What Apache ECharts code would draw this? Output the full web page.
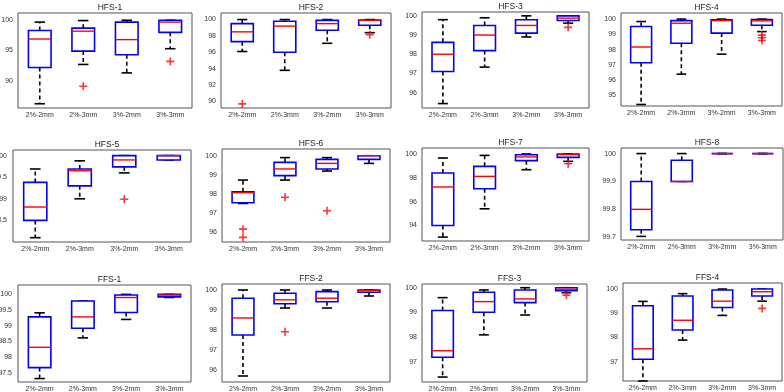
<!DOCTYPE html>
<html>
<head>
<meta charset="utf-8">
<script src="https://cdn.jsdelivr.net/npm/echarts@6/dist/echarts.min.js"></script>
<style>
  html, body { margin: 0; padding: 0; background: #fff; }
  #chart { width: 784px; height: 392px; }
</style>
</head>
<body>
<div id="chart"></div>
<script>
const categories = ['2%-2mm', '2%-3mm', '3%-2mm', '3%-3mm']
const panelTitles = ['HFS-1', 'HFS-2', 'HFS-3', 'HFS-4', 'HFS-5', 'HFS-6', 'HFS-7', 'HFS-8', 'FFS-1', 'FFS-2', 'FFS-3', 'FFS-4']

// each box: [lower whisker, Q1, median, Q3, upper whisker]
const hfs1Box = [[86.2, 92.2, 96.9, 98.3, 99.7], [92.7, 94.9, 98.2, 98.7, 99.95], [91.3, 94.3, 96.8, 99.7, 100], [95.3, 98.0, 99.7, 100, 100]]
const hfs2Box = [[96.1, 97.3, 98.5, 99.5, 100], [93.8, 96.0, 99.2, 99.8, 100], [97.1, 98.7, 99.5, 99.9, 100], [98.4, 99.3, 99.9, 99.95, 100]]
const hfs3Box = [[95.43, 97.1, 98.0, 98.62, 99.8], [97.33, 98.19, 99.0, 99.5, 99.9], [98.9, 99.1, 99.5, 99.8, 100], [99.62, 99.76, 99.88, 100, 100]]
const hfs4Box = [[94.4, 97.14, 98.17, 99.51, 99.84], [96.39, 98.42, 99.73, 99.9, 100], [97.7, 99.08, 99.9, 99.95, 100], [99.18, 99.6, 99.89, 99.97, 100]]
const hfs5Box = [[98.1, 98.5, 98.81, 99.38, 99.69], [99.0, 99.3, 99.65, 99.69, 99.88], [99.6, 99.74, 99.9, 100, 100], [99.9, 99.9, 100, 100, 100]]
const hfs6Box = [[97.51, 97.55, 98.07, 98.12, 98.73], [98.73, 98.96, 99.31, 99.65, 99.9], [99.2, 99.31, 99.6, 99.81, 99.9], [99.6, 99.81, 100, 100, 100]]
const hfs7Box = [[93.03, 94.0, 97.23, 98.4, 99.66], [95.4, 97.08, 98.12, 98.96, 99.88], [98.68, 99.44, 99.75, 99.94, 100], [99.38, 99.71, 99.94, 100, 100]]
const hfs8Box = [[99.703, 99.727, 99.8, 99.9, 100], [99.9, 99.9, 99.9, 99.976, 100], [100, 100, 100, 100, 100], [100, 100, 100, 100, 100]]
const ffs1Box = [[97.31, 97.66, 98.31, 99.28, 99.41], [98.61, 98.92, 99.28, 99.79, 99.79], [99.2, 99.42, 99.9, 99.98, 100], [99.9, 99.92, 99.98, 100, 100]]
const ffs2Box = [[95.7, 97.75, 98.6, 99.59, 100], [99.1, 99.31, 99.51, 99.84, 100], [99.1, 99.41, 99.59, 99.92, 100], [99.7, 99.89, 99.97, 100, 100]]
const ffs3Box = [[96.4, 97.2, 97.46, 99.08, 99.6], [98.1, 99.01, 99.44, 99.82, 99.91], [98.9, 99.4, 99.55, 99.91, 100], [99.8, 99.88, 99.94, 100, 100]]
const ffs4Box = [[96.2, 97.1, 97.53, 99.31, 99.49], [97.89, 98.31, 98.71, 99.71, 99.81], [98.91, 99.24, 99.5, 99.96, 100], [99.5, 99.71, 99.89, 100, 100]]

// outliers: [category index, value]
const hfs1Out = [[1, 89.1], [3, 93.2]]
const hfs2Out = [[0, 89.7], [3, 98.15]]
const hfs3Out = [[3, 99.4]]
const hfs4Out = [[3, 98.95], [3, 98.78], [3, 98.6]]
const hfs5Out = [[2, 98.99]]
const hfs6Out = [[0, 96.17], [0, 95.74], [1, 97.83], [2, 97.13]]
const hfs7Out = [[3, 99.18]]
const hfs8Out = []
const ffs1Out = []
const ffs2Out = [[1, 97.91]]
const ffs3Out = [[3, 99.7]]
const ffs4Out = [[3, 99.2]]

const yLimits = [[85.5, 101.2], [89.2, 100.8], [95.2, 100.2], [94.3, 100.4], [98.0, 100.13], [95.5, 100.35],
  [92.7, 100.5], [99.69, 100.02], [97.2, 100.3], [95.4, 100.3], [96.2, 100.15], [96.2, 100.25]]
const yTicks = [[90, 95, 100], [90, 92, 94, 96, 98, 100], [96, 97, 98, 99, 100], [95, 96, 97, 98, 99, 100],
  [98.5, 99, 99.5, 100], [96, 97, 98, 99, 100], [94, 96, 98, 100], [99.7, 99.8, 99.9, 100],
  [97.5, 98, 98.5, 99, 99.5, 100], [96, 97, 98, 99, 100], [97, 98, 99, 100], [97, 98, 99, 100]]

const boxes = [hfs1Box, hfs2Box, hfs3Box, hfs4Box, hfs5Box, hfs6Box, hfs7Box, hfs8Box, ffs1Box, ffs2Box, ffs3Box, ffs4Box]
const outliers = [hfs1Out, hfs2Out, hfs3Out, hfs4Out, hfs5Out, hfs6Out, hfs7Out, hfs8Out, ffs1Out, ffs2Out, ffs3Out, ffs4Out]

// [left, top, width, height, y-label margin] of each axes frame
const frames = [
  [18, 13, 174, 95, 5], [221, 13, 170, 95, 5], [422, 12, 167, 96, 5], [621, 13, 161, 93, 5],
  [13, 150, 178, 92, 6], [222, 149, 168, 93, 5], [422, 148, 167, 93, 5], [621, 148, 162, 92, 5],
  [18, 285, 173, 97, 6], [222, 284, 168, 98, 5], [422, 284, 165, 98, 5], [623, 283, 159, 98, 5]
]

const FONT = 'Liberation Sans, Arial, sans-serif'
const plus = 'path://M4,0 L6,0 L6,4 L10,4 L10,6 L6,6 L6,10 L4,10 L4,6 L0,6 L0,4 L4,4 Z'

function renderBox(params, api) {
  const i = api.value(0)
  const lo = api.coord([i, api.value(1)])
  const q1 = api.coord([i, api.value(2)])
  const med = api.coord([i, api.value(3)])
  const q3 = api.coord([i, api.value(4)])
  const hi = api.coord([i, api.value(5)])
  const band = api.size([1, 0])[0]
  const hb = band * 0.26
  const hc = band * 0.12
  const cx = med[0]
  const dash = { stroke: '#000', lineWidth: 1.6, lineDash: [4, 3] }
  const solid = { stroke: '#000', lineWidth: 1.6 }
  return {
    type: 'group',
    children: [
      { type: 'line', shape: { x1: cx, y1: q3[1], x2: cx, y2: hi[1] }, style: dash },
      { type: 'line', shape: { x1: cx, y1: q1[1], x2: cx, y2: lo[1] }, style: dash },
      { type: 'line', shape: { x1: cx - hc, y1: hi[1], x2: cx + hc, y2: hi[1] }, style: solid },
      { type: 'line', shape: { x1: cx - hc, y1: lo[1], x2: cx + hc, y2: lo[1] }, style: solid },
      { type: 'rect', shape: { x: cx - hb, y: q3[1], width: hb * 2, height: q1[1] - q3[1] },
        style: { fill: '#fff', stroke: '#0000ff', lineWidth: 1.6 } },
      { type: 'line', shape: { x1: cx - hb, y1: med[1], x2: cx + hb, y2: med[1] },
        style: { stroke: '#ff0000', lineWidth: 1.4 } }
    ]
  }
}

const chart = echarts.init(document.getElementById('chart'))

const grid = [], xAxis = [], yAxis = [], series = [], title = []
frames.forEach((f, k) => {
  grid.push({ left: f[0], top: f[1], width: f[2], height: f[3], show: true,
    outerBoundsMode: 'none', containLabel: false,
    borderColor: '#555', borderWidth: 1, backgroundColor: '#fff' })
  title.push({ text: panelTitles[k], left: f[0] + f[2] / 2, top: f[1] - 15, textAlign: 'center',
    textStyle: { fontFamily: FONT, fontSize: 8.5, fontWeight: 'normal', color: '#222' } })
  xAxis.push({
    type: 'category', gridIndex: k, data: categories,
    axisLine: { show: false },
    axisTick: { inside: true, alignWithLabel: true, length: 3, lineStyle: { color: '#555' } },
    axisLabel: { fontFamily: FONT, fontSize: 7, color: '#333', margin: 4, interval: 0 },
    splitLine: { show: false }
  })
  const tickCfg = { inside: true, length: 3, customValues: yTicks[k], lineStyle: { color: '#555' } }
  yAxis.push({
    type: 'value', gridIndex: k, min: yLimits[k][0], max: yLimits[k][1],
    axisLine: { show: false }, splitLine: { show: false },
    axisTick: tickCfg,
    axisLabel: { customValues: yTicks[k], fontFamily: FONT, fontSize: 7, color: '#333', margin: f[4] }
  })
  yAxis.push({
    type: 'value', gridIndex: k, position: 'right', min: yLimits[k][0], max: yLimits[k][1],
    axisLine: { show: false }, splitLine: { show: false },
    axisTick: tickCfg, axisLabel: { show: false }
  })
  series.push({
    type: 'custom', xAxisIndex: k, yAxisIndex: k * 2,
    renderItem: renderBox,
    encode: { x: 0, y: [1, 2, 3, 4, 5] },
    data: boxes[k].map((b, i) => [i].concat(b)),
    silent: true
  })
  series.push({
    type: 'scatter', xAxisIndex: k, yAxisIndex: k * 2,
    symbol: plus, symbolSize: 8,
    itemStyle: { color: '#ff0000' },
    data: outliers[k],
    silent: true
  })
})

chart.setOption({ animation: false, title, grid, xAxis, yAxis, series })
</script>
</body>
</html>
